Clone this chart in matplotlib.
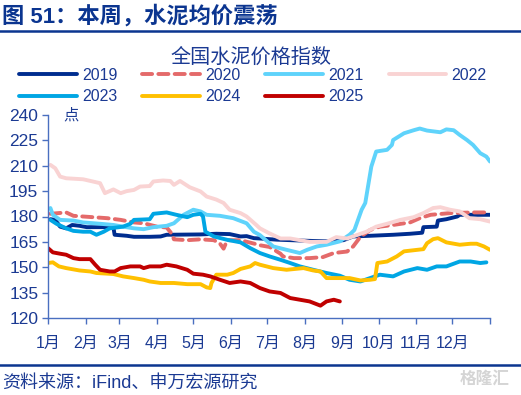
import matplotlib
matplotlib.use("Agg")
import matplotlib.pyplot as plt
from matplotlib.lines import Line2D

plt.rcParams['font.family'] = ['Liberation Sans', 'Noto Sans CJK SC']

# ---------------- data (day of year, index value) ----------------
x2019 = [2, 6, 10, 15, 20, 26, 32, 54, 55, 65, 71, 84, 93, 98, 126, 139, 150, 159, 164, 170, 175,
         189, 216, 230, 244, 252, 266, 285, 299, 309, 310, 321, 322, 329, 338, 340, 365]
y2019 = [178.4, 178, 174, 173, 175, 174.5, 173.7, 173.7, 169.2, 168.6, 168, 168, 168.2, 169.2, 169.4,
         169.8, 169.6, 168.2, 168.4, 167.2, 167, 166.3, 165.6, 165.3, 166, 168.2, 168.6, 169.2, 169.8,
         170.4, 173.7, 174, 177.6, 178.4, 180, 181, 181]

x2020 = [2, 15, 21, 37, 49, 60, 71, 79, 90, 98, 102, 104, 115, 126, 137, 142, 145, 148, 159, 170,
         175, 183, 192, 194, 203, 216, 227, 236, 247, 252, 258, 266, 274, 285, 299, 307, 316, 332, 351, 365]
y2020 = [181.6, 182.4, 180.4, 179.6, 179, 178, 176.5, 176, 174, 173.5, 170, 166.5, 166, 166.5, 166,
         164, 161, 166, 166, 164, 163, 162, 158, 156.4, 155.4, 155.4, 156, 158.4, 159.3, 162.3, 168,
         172, 174, 175, 176.5, 179, 181, 182, 182.4, 182.4]

x2021 = [2, 4, 10, 21, 29, 43, 54, 62, 71, 79, 87, 98, 104, 112, 120, 126, 131, 142, 153, 164, 170,
         175, 186, 197, 208, 214, 222, 230, 241, 249, 253, 259, 262, 267, 271, 280, 284, 285, 294, 302,
         307, 313, 324, 329, 335, 340, 346, 351, 357, 362, 365]
y2021 = [185, 181, 178, 177.6, 176.5, 175.7, 175, 174, 173, 172.5, 173.7, 174.5, 176, 181, 184, 183,
         181, 180.4, 179, 176, 171, 169, 162.3, 160.3, 158.4, 160.3, 162.3, 163.3, 165.3, 169.2, 172,
         184, 188, 209.5, 218.4, 219.4, 222.3, 225.2, 229.2, 231, 232, 230.8, 229.8, 231.5, 231, 228.2,
         225.2, 222.3, 217.4, 215.4, 212.5]

x2022 = [2, 6, 10, 15, 29, 37, 43, 47, 54, 60, 65, 71, 76, 84, 87, 95, 101, 104, 109, 117, 126, 131,
         139, 145, 150, 159, 164, 172, 175, 183, 192, 200, 208, 216, 230, 238, 247, 255, 263, 271, 280,
         291, 302, 310, 318, 324, 332, 340, 348, 357, 365]
y2022 = [210.5, 208.5, 203.6, 202.6, 202, 200.7, 199.7, 193.8, 196, 193.8, 195, 195.7, 197.7, 198,
         200.7, 201.3, 201, 198.7, 201, 197.3, 194.8, 191.8, 190, 188, 184, 182, 180, 175, 173, 170,
         167, 167, 166, 165, 165, 167.8, 167, 169, 171, 174, 175.7, 178, 179.6, 182, 185, 185.5, 184,
         183, 179, 178.4, 177]

x2023 = [2, 7, 15, 21, 29, 35, 40, 46, 51, 62, 68, 71, 84, 87, 98, 106, 115, 120, 126, 128, 130, 137,
         148, 159, 167, 175, 183, 192, 200, 208, 219, 230, 241, 249, 258, 266, 274, 285, 294, 305, 313,
         321, 329, 340, 349, 357, 362]
y2023 = [178, 175.7, 173, 171.5, 171, 171, 169.2, 171, 173, 174, 175.7, 178, 178.4, 181.6, 182.4, 181,
         179.6, 181, 181.6, 180, 171, 168.2, 166.2, 164.7, 161.3, 158.4, 156.4, 154.4, 152.5, 150.5,
         148.5, 146.6, 145, 142.6, 141.6, 143.6, 145.6, 144.6, 147.5, 149.5, 148.5, 150.5, 150.5, 153.4,
         153.4, 152.5, 152.9]

x2024 = [0, 4, 9, 15, 26, 35, 40, 54, 62, 71, 79, 84, 93, 104, 115, 126, 131, 134, 135, 139, 148, 153,
         159, 167, 171, 175, 186, 197, 211, 219, 225, 230, 241, 249, 258, 266, 270, 272, 280, 288, 294,
         305, 310, 313, 318, 322, 329, 340, 349, 354, 360, 365]
y2024 = [152.5, 152.9, 150.5, 149.5, 148.1, 147.5, 146.6, 146, 144.6, 143.6, 142.6, 141.6, 140.7, 140.7,
         140, 140, 138.1, 137.7, 140.7, 145.6, 145.6, 146.6, 149, 150.5, 152.5, 151.5, 149.5, 148.5,
         149.5, 148.1, 147.5, 143.6, 143.6, 143.6, 142.2, 142.6, 143, 152.5, 153.4, 156.4, 159.4, 160.3,
         160.7, 164.2, 166.6, 167.2, 164.7, 163.3, 163.9, 163.9, 162.3, 160.3]

x2025 = [0, 4, 10, 15, 21, 26, 35, 39, 43, 51, 55, 60, 68, 76, 79, 84, 93, 98, 106, 115, 120, 128, 134,
         142, 150, 159, 167, 175, 183, 192, 200, 208, 216, 225, 230, 236, 241]
y2025 = [161.3, 158.8, 158, 157.4, 155.4, 154.8, 154.8, 151.5, 148.5, 147.5, 147.5, 149.5, 150.5, 150.5,
         149.5, 150.5, 150.5, 151.5, 150.5, 148.5, 146.2, 145.6, 144.6, 142.6, 140.7, 141.6, 140.7, 137.7,
         135.7, 134.8, 131.8, 130.8, 129.8, 127.3, 129.8, 130.8, 129.8]

month_ticks = [0, 31, 59, 90, 120, 151, 181, 212, 243, 273, 304, 334, 365]
month_labels = ['1月', '2月', '3月', '4月', '5月', '6月', '7月', '8月', '9月', '10月', '11月', '12月', '']
y_ticks = [120, 135, 150, 165, 180, 195, 210, 225, 240]

series = [
    ('2019', x2019, y2019, '#002D8F', '-'),
    ('2020', x2020, y2020, '#E46A6A', '--'),
    ('2021', x2021, y2021, '#5FD3FB', '-'),
    ('2022', x2022, y2022, '#F9D3D3', '-'),
    ('2023', x2023, y2023, '#00A6E4', '-'),
    ('2024', x2024, y2024, '#FFC000', '-'),
    ('2025', x2025, y2025, '#C00000', '-'),
]

NAVY = '#1B3A93'
SPINE = '#4A6FC0'

fig = plt.figure(figsize=(5.21, 3.95), dpi=100)
ax = fig.add_axes([48 / 521, 1 - 318 / 395, 442 / 521, 203 / 395])

handles = {}
for name, xs, ys, col, ls in series:
    if ls == '--':
        ln, = ax.plot(xs, ys, color=col, lw=2.8, dashes=(2.6, 1.6), dash_capstyle='round', label=name)
    else:
        ln, = ax.plot(xs, ys, color=col, lw=2.8, solid_capstyle='round', label=name)
    handles[name] = ln

ax.set_xlim(0, 365)
ax.set_ylim(120, 240)
ax.set_xticks(month_ticks)
ax.set_xticklabels(month_labels)
ax.set_yticks(y_ticks)
for s in ['top', 'right']:
    ax.spines[s].set_visible(False)
for s in ['left', 'bottom']:
    ax.spines[s].set_color(SPINE)
    ax.spines[s].set_linewidth(1.0)
ax.tick_params(axis='both', colors=SPINE, labelcolor=NAVY, direction='out', length=4, width=1.0)
ax.tick_params(axis='y', labelsize=12.5, pad=3)
ax.tick_params(axis='x', labelsize=11.5, pad=9)

# unit label
ax.text(0.035, 1.0, '点', transform=ax.transAxes, fontsize=11, color=NAVY, ha='left', va='center')

# header title and rules
fig.text(2 / 521, 1 - 16 / 395, '图 51：本周，水泥均价震荡', fontsize=16, fontweight='bold',
         color='#0B3590', ha='left', va='center')
fig.add_artist(Line2D([0, 1], [1 - 31 / 395, 1 - 31 / 395], color='#0B3590', lw=1.8))
fig.add_artist(Line2D([0, 1], [1 - 365 / 395, 1 - 365 / 395], color='#0B3590', lw=1.8))

fig.text(251 / 521, 1 - 57 / 395, '全国水泥价格指数', fontsize=14.5, color=NAVY, ha='center', va='center')

# legend filled row-wise (matplotlib fills column-wise, so reorder)
order = ['2019', '2023', '2020', '2024', '2021', '2025', '2022']
fig.legend(handles=[handles[k] for k in order], labels=order, ncol=4, frameon=False,
           loc='upper left', bbox_to_anchor=(19 / 521, 1 - 68 / 395), fontsize=11.5,
           handlelength=3.6, handletextpad=0.35, columnspacing=1.55, labelspacing=0.4,
           borderpad=0, borderaxespad=0, labelcolor=NAVY)

fig.text(2 / 521, 1 - 383 / 395, '资料来源：iFind、申万宏源研究', fontsize=13, color=NAVY,
         ha='left', va='center')
fig.text(510 / 521, 1 - 379 / 395, '格隆汇', fontsize=12, color='#D5D5D5', ha='right', va='center',
         fontweight='bold')

fig.savefig('out.png', dpi=100)
